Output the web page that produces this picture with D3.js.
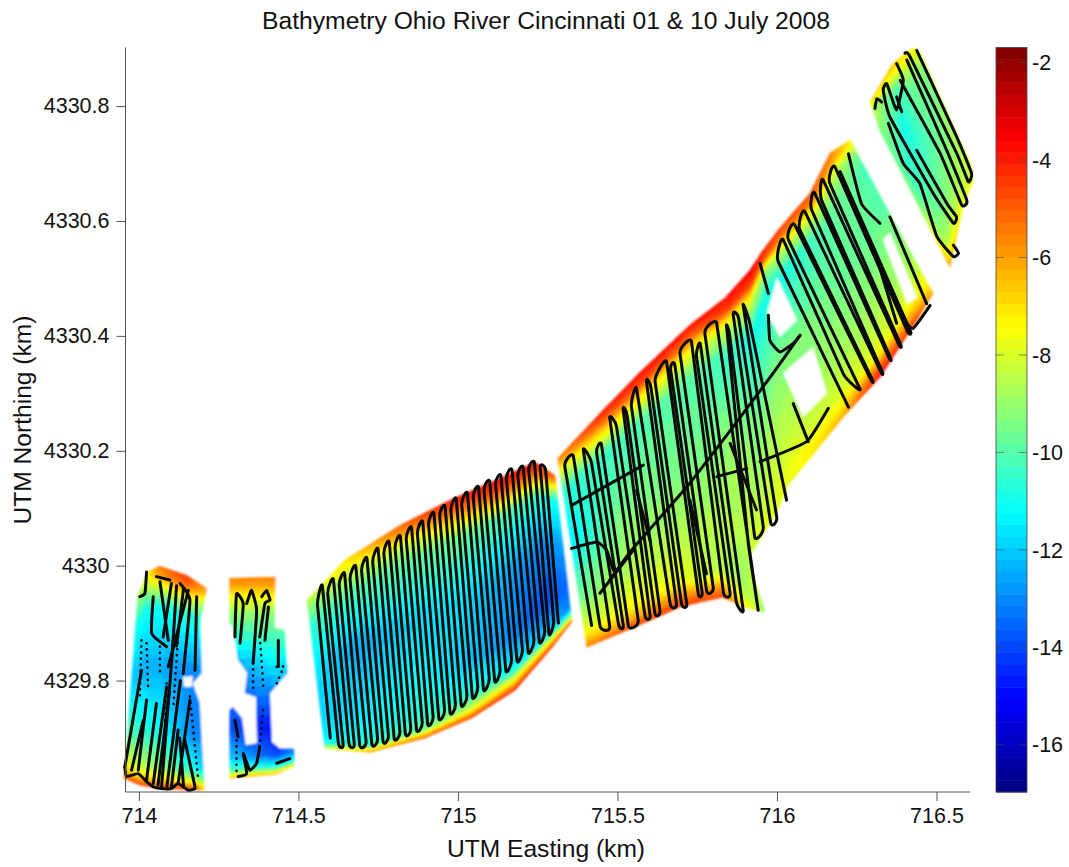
<!DOCTYPE html>
<html><head><meta charset="utf-8">
<script src="https://cdnjs.cloudflare.com/ajax/libs/d3/7.8.5/d3.min.js"></script>
<style>html,body{margin:0;background:#fff}svg{display:block}text{font-family:"Liberation Sans",Arial,sans-serif;fill:#111}</style>
</head><body><svg id="c" width="1069" height="867"></svg>
<script>
const titleText="Bathymetry Ohio River Cincinnati 01 & 10 July 2008";
const xLabel="UTM Easting (km)", yLabel="UTM Northing (km)";
const xTicks=[714,714.5,715,715.5,716,716.5];
const yTicks=[4329.8,4330,4330.2,4330.4,4330.6,4330.8];
const cbTicks=[-2,-4,-6,-8,-10,-12,-14,-16];
const depthRange=[-16.97,-1.69];
// fractions of the way across the river at which each station's depths are read
const crossFractions=[0,.04,.09,.18,.45,.75,.9,.96,1];
// stations: north-bank E,N, south-bank E,N, depths (m)
const stationsA=[
[713.997,4329.947,713.953,4329.63,[-9,-9.5,-10,-11,-12,-10,-8,-6.5,-5]],
[714.028,4329.989,714.003,4329.618,[-7,-8,-9,-11,-12.5,-10.5,-8.5,-7,-4.5]],
[714.066,4329.999,714.066,4329.612,[-5.5,-6,-8,-11,-12.5,-11,-9,-7,-4.5]],
[714.15,4329.983,714.176,4329.61,[-4.5,-5,-7,-10.5,-13,-13,-11,-8,-4.5]],
[714.213,4329.96,714.207,4329.61,[-6,-7,-9,-11,-13,-13,-12,-9,-7]]];
const stationsB=[
[714.285,4329.978,714.285,4329.63,[-5.5,-6,-7.5,-9,-13,-14,-12,-10,-6]],
[714.429,4329.98,714.429,4329.637,[-5.5,-6,-7,-9,-11.5,-15,-14,-11,-6]],
[714.486,4329.896,714.486,4329.651,[-9,-9.5,-10,-11,-13,-14,-13,-11,-7]]];
const stationsC=[
[714.527,4329.94,714.583,4329.682,[-8.5,-9,-9.5,-10.5,-11.5,-12,-11.5,-11,-8]],
[714.646,4330.01,714.724,4329.675,[-7,-7.5,-8.5,-10,-12.5,-11.5,-11,-10.5,-6]],
[714.818,4330.07,714.897,4329.70,[-5,-6,-8,-9.8,-11.8,-11,-10.5,-9.5,-5]],
[714.975,4330.114,715.044,4329.735,[-4,-4.8,-6.5,-9.5,-11.5,-12,-10.5,-8,-4.5]],
[715.132,4330.152,715.179,4329.783,[-3.8,-4.3,-6,-10,-12.5,-13,-11,-7,-4]],
[715.241,4330.18,715.288,4329.853,[-3.8,-4.5,-6.5,-10.5,-13,-14,-12,-7.5,-4.2]],
[715.304,4330.157,715.357,4329.902,[-5,-6,-8,-11,-12.5,-13.5,-13,-9,-5]]];
const stationsD=[
[715.313,4330.187,715.404,4329.858,[-5.5,-6.5,-8.5,-10.5,-11.5,-9.5,-8,-6.5,-5.5]],
[715.445,4330.265,715.571,4329.897,[-4,-5,-7,-10.5,-9.5,-8.5,-7.5,-6,-4.5]],
[715.571,4330.337,715.696,4329.928,[-3.8,-4.5,-7,-10,-9.5,-8.5,-7.5,-5.5,-4.5]],
[715.727,4330.419,715.828,4329.945,[-3.8,-5,-7.5,-10,-9.5,-8.5,-8.5,-6,-4.5]],
[715.837,4330.466,715.90,4329.928,[-3.8,-4.5,-8,-10.5,-9,-8.5,-9,-8.5,-7]],
[715.915,4330.514,715.959,4329.919,[-3.5,-4.5,-8,-11,-9.5,-8,-7.5,-8.5,-9]],
[715.956,4330.549,716.041,4330.144,[-4,-5,-9,-11,-9.5,-8.5,-8,-7.5,-8]],
[716.009,4330.588,716.207,4330.258,[-4.5,-5.5,-8,-10.8,-9.5,-8.7,-8,-7,-6]],
[716.103,4330.648,716.323,4330.328,[-4.8,-5.5,-8,-10,-9.7,-8.7,-7.8,-5,-3.8]],
[716.166,4330.718,716.439,4330.427,[-5.5,-6,-8.5,-9.5,-9.8,-8.8,-7.8,-6,-4.5]],
[716.229,4330.741,716.489,4330.474,[-7,-8,-9.5,-10.3,-9.8,-8.8,-7.8,-7,-6]]];
const stationsF=[
[716.292,4330.807,716.323,4330.758,[-6.5,-7,-7.5,-8.5,-8.5,-9,-9.5,-9.5,-9.5]],
[716.364,4330.875,716.439,4330.631,[-6.5,-7,-8,-10,-11,-10.5,-10,-9.5,-9]],
[716.426,4330.901,716.542,4330.52,[-7.5,-8,-9,-9.5,-10,-9.5,-8.5,-7,-6]],
[716.448,4330.894,716.583,4330.625,[-8,-8.5,-9,-9.5,-9.5,-9,-8.5,-8,-7.5]],
[716.605,4330.70,716.614,4330.67,[-8,-8,-8,-8,-8,-8,-8,-7.5,-7.5]]];
// unsurveyed gaps in the mapped surface
const gaps=[
[[714.238,4329.99],[714.215,4329.96],[714.194,4329.905],[714.197,4329.813],[714.169,4329.795],[714.191,4329.761],[714.197,4329.696],[714.207,4329.614],[714.238,4329.614]],
[[714.138,4329.806],[714.169,4329.808],[714.166,4329.789],[714.141,4329.789]],
[[714.27,4329.905],[714.292,4329.896],[714.31,4329.836],[714.339,4329.813],[714.332,4329.778],[714.367,4329.771],[714.37,4329.691],[714.335,4329.688],[714.323,4329.735],[714.295,4329.754],[714.27,4329.745]],
[[714.429,4329.983],[714.505,4329.983],[714.505,4329.679],[714.483,4329.682],[714.442,4329.682],[714.417,4329.693],[714.411,4329.778],[714.467,4329.813],[714.458,4329.888],[714.426,4329.893]],
[[716.0,4330.502],[716.063,4330.427],[716.009,4330.398],[715.969,4330.44]],
[[716.019,4330.335],[716.113,4330.38],[716.157,4330.30],[716.082,4330.259]],
[[716.332,4330.567],[716.354,4330.58],[716.439,4330.467],[716.408,4330.456]],
[[715.969,4329.914],[715.931,4329.975],[715.915,4330.015],[716,4330.091],[716.041,4330.144],[716.072,4330.144],[716.072,4329.914]]];
// survey transects: top E,N, bottom E,N
const transectsC=[
[714.560,4329.930,714.600,4329.700],[714.575,4329.965,714.625,4329.692],[714.592,4329.950,714.640,4329.690],[714.610,4329.975,714.658,4329.692],
[714.628,4329.965,714.675,4329.690],[714.645,4329.985,714.692,4329.688],[714.662,4329.975,714.712,4329.695],[714.680,4329.998,714.730,4329.690],
[714.698,4329.990,714.748,4329.700],[714.715,4330.012,714.765,4329.695],[714.733,4330.005,714.782,4329.705],[714.750,4330.028,714.800,4329.700],
[714.768,4330.020,714.818,4329.712],[714.785,4330.040,714.835,4329.708],[714.803,4330.030,714.852,4329.718],[714.820,4330.050,714.870,4329.715],
[714.838,4330.045,714.888,4329.728],[714.855,4330.065,714.905,4329.725],[714.873,4330.055,714.922,4329.738],[714.890,4330.075,714.940,4329.735],
[714.908,4330.070,714.958,4329.750],[714.925,4330.090,714.975,4329.745],[714.943,4330.085,714.992,4329.760],[714.960,4330.102,715.010,4329.758],
[714.978,4330.095,715.028,4329.775],[714.995,4330.115,715.045,4329.772],[715.012,4330.105,715.062,4329.790],[715.030,4330.125,715.080,4329.785],
[715.048,4330.118,715.098,4329.805],[715.065,4330.135,715.115,4329.800],[715.082,4330.130,715.132,4329.820],[715.100,4330.145,715.150,4329.818],
[715.118,4330.140,715.168,4329.838],[715.135,4330.155,715.185,4329.835],[715.152,4330.150,715.202,4329.855],[715.170,4330.165,715.220,4329.850],
[715.188,4330.155,715.238,4329.872],[715.205,4330.170,715.255,4329.868],[715.222,4330.165,715.272,4329.888],[715.240,4330.178,715.285,4329.882],
[715.258,4330.170,715.300,4329.905],[715.275,4330.165,715.315,4329.900]];
const transectsD=[
[715.335,4330.172,715.419,4329.896],[715.362,4330.190,715.445,4329.896],[715.393,4330.201,715.476,4329.894],[715.419,4330.178,715.503,4329.899],
[715.435,4330.195,715.518,4329.897],[715.450,4330.210,715.534,4329.896],[715.476,4330.256,715.565,4329.905],[715.497,4330.242,715.586,4329.914],[715.518,4330.271,715.602,4329.914],
[715.530,4330.262,715.617,4329.918],[715.544,4330.276,715.633,4329.923],[715.560,4330.308,715.665,4329.934],[715.591,4330.320,715.685,4329.934],[715.605,4330.310,715.700,4329.936],[715.618,4330.320,715.717,4329.934],
[715.654,4330.355,715.753,4329.952],[715.667,4330.340,715.765,4329.955],[715.680,4330.349,715.779,4329.957],[715.696,4330.369,715.800,4329.963],[715.732,4330.390,715.832,4329.954],
[715.748,4330.363,715.853,4329.952],[715.760,4330.385,715.872,4329.938],[715.774,4330.404,715.894,4329.923],[715.811,4330.422,715.941,4329.923],[715.842,4330.416,715.910,4330.039],
[715.852,4330.40,715.930,4330.05],[715.863,4330.436,715.957,4330.068],[715.880,4330.43,715.980,4330.075],[715.894,4330.453,715.999,4330.085],[715.915,4330.422,716.030,4330.114]];
const transectsE=[
[716.004,4330.529,716.224,4330.276],[716.020,4330.567,716.208,4330.334],[716.036,4330.567,716.260,4330.308],[716.056,4330.593,716.292,4330.326],
[716.072,4330.584,716.297,4330.326],[716.088,4330.616,716.323,4330.340],[716.109,4330.619,716.328,4330.340],[716.119,4330.648,716.349,4330.364],
[716.140,4330.636,716.354,4330.364],[716.145,4330.671,716.380,4330.387],[716.166,4330.665,716.386,4330.387],[716.182,4330.694,716.407,4330.410],
[716.198,4330.686,716.417,4330.410]];
// other solid track pieces
const trackLines=[
[[715.947,4330.526],[715.973,4330.474]],
[[715.973,4330.436],[715.978,4330.392],[716.009,4330.372],[716.051,4330.387],[716.072,4330.401]],
[[716.051,4330.282],[716.098,4330.216]],
[[715.476,4329.975],[715.544,4330.027],[715.717,4330.137],[715.863,4330.242],[715.988,4330.335],[716.072,4330.401]],
[[715.356,4330.105],[715.581,4330.175]],
[[715.947,4330.181],[716.093,4330.216],[716.161,4330.274]],
[[715.811,4330.155],[715.905,4330.169]],
[[715.356,4330.030],[715.435,4330.041],[715.466,4330.027],[715.487,4329.992]],
[[715.560,4330.131],[715.602,4330.044]],
[[715.727,4330.114],[715.779,4329.986]],
[[715.853,4330.213],[715.936,4330.097]],
[[715.445,4329.952],[715.550,4330.027]],
[[716.224,4330.717],[716.265,4330.630],[716.323,4330.596]],
[[716.302,4330.555],[716.375,4330.422]],
[[716.354,4330.607],[716.469,4330.456]],
[[716.396,4330.427],[716.427,4330.413],[716.480,4330.453]],
[[716.438,4330.897],[716.563,4330.747],[716.610,4330.683],[716.600,4330.668],[716.563,4330.718],[716.417,4330.886],[716.401,4330.892]],
[[716.407,4330.880],[716.532,4330.723],[716.595,4330.636],[716.579,4330.628],[716.511,4330.718],[716.386,4330.845]],
[[716.375,4330.874],[716.396,4330.845],[716.375,4330.793],[716.344,4330.839],[716.333,4330.828],[716.354,4330.781],[716.490,4330.648],[716.553,4330.596],[716.563,4330.607],[716.532,4330.631],[716.438,4330.723]],
[[716.349,4330.770],[716.396,4330.700],[716.448,4330.665],[716.501,4330.573],[716.553,4330.538],[716.569,4330.544],[716.553,4330.558]],
[[716.307,4330.796],[716.313,4330.813],[716.328,4330.807]],
[[716.375,4330.816],[716.391,4330.790]],
[[713.956,4329.650],[714.008,4329.818]],
[[713.977,4329.644],[714.014,4329.731]],
[[713.998,4329.644],[714.024,4329.766]],
[[714.024,4329.627],[714.055,4329.760]],
[[714.045,4329.621],[714.087,4329.789]],
[[714.071,4329.615],[714.108,4329.870]],
[[714.102,4329.615],[714.123,4329.714]],
[[714.123,4329.621],[714.160,4329.766]],
[[714.176,4329.615],[714.144,4329.696]],
[[714.060,4329.618],[714.095,4329.780]],
[[714.088,4329.616],[714.130,4329.800]],
[[714.140,4329.616],[714.128,4329.700]],
[[714.024,4329.989],[714.019,4329.952],[714.003,4329.946]],
[[714.045,4329.946],[714.040,4329.882],[714.087,4329.859]],
[[714.066,4329.972],[714.092,4329.870]],
[[714.102,4329.969],[714.076,4329.876]],
[[714.129,4329.969],[714.160,4329.940],[714.139,4329.812]],
[[714.155,4329.957],[714.092,4329.824]],
[[714.181,4329.946],[714.176,4329.818]],
[[714.055,4329.981],[714.097,4329.975]],
[[714.118,4329.965],[714.105,4329.850]],
[[714.140,4329.960],[714.118,4329.860]],
[[713.956,4329.650],[713.961,4329.633],[713.998,4329.638],[714.024,4329.624],[714.045,4329.615],[714.071,4329.612],[714.102,4329.612],[714.123,4329.621],[714.155,4329.609],[714.176,4329.612]],
[[714.301,4329.876],[714.306,4329.951],[714.327,4329.934],[714.317,4329.865]],
[[714.338,4329.934],[714.353,4329.957],[714.369,4329.923],[714.358,4329.830]],
[[714.385,4329.946],[714.400,4329.957],[714.411,4329.940],[714.395,4329.934],[714.379,4329.876]],
[[714.406,4329.928],[714.395,4329.870]],
[[714.437,4329.870],[714.437,4329.824]],
[[714.301,4329.731],[714.311,4329.702]],
[[714.311,4329.633],[714.338,4329.638],[714.327,4329.673],[714.348,4329.644],[714.369,4329.656],[714.379,4329.685]],
[[714.432,4329.656],[714.473,4329.664]]];
// sparse dotted pieces
const dottedLines=[
[[714.008,4329.870],[714.003,4329.772]],
[[714.024,4329.865],[714.029,4329.789]],
[[714.066,4329.859],[714.066,4329.812]],
[[714.123,4329.876],[714.108,4329.754]],
[[714.087,4329.795],[714.082,4329.731]],
[[714.160,4329.772],[714.186,4329.627]],
[[714.306,4329.696],[714.306,4329.638]],
[[714.379,4329.685],[714.390,4329.754]],
[[714.379,4329.876],[714.390,4329.789]],
[[714.358,4329.830],[714.358,4329.783]],
[[714.432,4329.824],[714.453,4329.824],[714.432,4329.795]]];

const X0=125.5,X1=970,Y0=792,Y1=47.5;
const xs=d3.scaleLinear().domain([713.958,716.605]).range([X0,X1]);
const ys=d3.scaleLinear().domain([4329.606,4330.902]).range([Y0,Y1]);
const svg=d3.select("#c");
const defs=svg.append("defs");
defs.append("filter").attr("id","soft").attr("x","-5%").attr("y","-5%").attr("width","110%").attr("height","110%")
 .append("feGaussianBlur").attr("stdDeviation",.9);

function jet(t){const c=v=>Math.round(255*Math.max(0,Math.min(1,v)));
 return `rgb(${c(1.5-Math.abs(4*t-3))},${c(1.5-Math.abs(4*t-2))},${c(1.5-Math.abs(4*t-1))})`;}
const nLevels=64;
const levelScale=d3.scaleQuantize().domain(depthRange).range(d3.range(nLevels));
const colorOf=l=>jet((l+.5)/nLevels);

function mesh(stations){
 const cells=new Map();
 const lerp=d3.interpolateNumber;
 for(let s=0;s<stations.length-1;s++){
  const a=stations[s],b=stations[s+1];
  const pt=(S,f)=>[lerp(S[0],S[2])(f),lerp(S[1],S[3])(f)];
  const NU=12,NV=6;
  for(let u=0;u<NU;u++)for(let k=0;k<crossFractions.length-1;k++)for(let v=0;v<NV;v++){
   const u0=u/NU,u1=(u+1)/NU;
   const f0=lerp(crossFractions[k],crossFractions[k+1])(v/NV),f1=lerp(crossFractions[k],crossFractions[k+1])((v+1)/NV);
   const P=(uu,f)=>{const p=pt(a,f),q=pt(b,f);return[xs(lerp(p[0],q[0])(uu)),ys(lerp(p[1],q[1])(uu))];};
   const dm=lerp(lerp(a[4][k],a[4][k+1])((v+.5)/NV),lerp(b[4][k],b[4][k+1])((v+.5)/NV))((u+.5)/NU);
   const l=levelScale(dm);
   const poly=[P(u0,f0),P(u1,f0),P(u1,f1),P(u0,f1)];
   const str="M"+poly.map(p=>p[0].toFixed(1)+","+p[1].toFixed(1)).join("L")+"Z";
   cells.set(l,(cells.get(l)||"")+str);
  }
 }
 return Array.from(cells,([level,d])=>({level,d}));
}
const surf=svg.append("g").attr("filter","url(#soft)");
[stationsA,stationsB,stationsC,stationsD,stationsF].forEach(st=>{
 surf.append("g").selectAll("path").data(mesh(st)).join("path")
  .attr("d",d=>d.d).attr("fill",d=>colorOf(d.level)).attr("stroke",d=>colorOf(d.level)).attr("stroke-width",.6);
});
const polyLine=d3.line().x(d=>xs(d[0])).y(d=>ys(d[1]));
surf.append("g").selectAll("path").data(gaps).join("path")
 .attr("d",d=>polyLine(d)+"Z").attr("fill","#fff");

// tracks: straight runs joined by small U-turns that continue each run's heading
function snakePath(T){
 const pts=T.map((t,i)=>{const top=[xs(t[0]),ys(t[1])],bot=[xs(t[2]),ys(t[3])];return i%2?[top,bot]:[bot,top];});
 const p=d3.path();p.moveTo(...pts[0][0]);
 pts.forEach((r,i)=>{
  p.lineTo(...r[1]);
  if(i<pts.length-1){
   const n=pts[i+1];
   const u=[r[1][0]-r[0][0],r[1][1]-r[0][1]],lu=Math.hypot(...u);
   const w=[n[0][0]-n[1][0],n[0][1]-n[1][1]],lw=Math.hypot(...w);
   const k=6;
   p.bezierCurveTo(r[1][0]+u[0]/lu*k,r[1][1]+u[1]/lu*k,n[0][0]+w[0]/lw*k,n[0][1]+w[1]/lw*k,n[0][0],n[0][1]);
  }
 });
 return p.toString();
}
const curved=d3.line().x(d=>xs(d[0])).y(d=>ys(d[1])).curve(d3.curveCardinal.tension(.6));
const tracks=svg.append("g").attr("fill","none").attr("stroke","#0a0a0a").attr("stroke-linecap","round").attr("stroke-linejoin","round");
[transectsC,transectsD,transectsE].forEach(T=>{
 tracks.append("path").attr("d",snakePath(T)).attr("stroke-width",3);
});
tracks.selectAll("path.s").data(trackLines).join("path").attr("class","s").attr("d",curved).attr("stroke-width",3);
tracks.selectAll("path.o").data(dottedLines).join("path").attr("class","o").attr("d",curved)
 .attr("stroke-width",2.6).attr("stroke-dasharray","0.1 6");

// axes
const axG=svg.append("g");
const xa=axG.append("g").attr("transform",`translate(0,${Y0})`).call(d3.axisBottom(xs).tickValues(xTicks).tickSize(9).tickPadding(7).tickFormat(d3.format("")));
const ya=axG.append("g").attr("transform",`translate(${X0},0)`).call(d3.axisLeft(ys).tickValues(yTicks).tickSize(9).tickPadding(7).tickFormat(d=>+d.toFixed(1)+""));
[xa,ya].forEach(g=>{g.selectAll("path,line").attr("stroke","#555").attr("stroke-width",1);
 g.select(".domain").attr("d",g===xa?`M${X0},0H${X1}`:`M0,${Y0}V${Y1}`);
 g.selectAll("text").attr("font-size",21.5).attr("font-family",'"Liberation Sans",Arial,sans-serif').attr("fill","#111");});
svg.append("text").attr("x",546).attr("y",29).attr("text-anchor","middle").attr("font-size",24.7).text(titleText);
svg.append("text").attr("x",546).attr("y",857).attr("text-anchor","middle").attr("font-size",24.6).text(xLabel);
svg.append("text").attr("transform","translate(31,420) rotate(-90)").attr("text-anchor","middle").attr("font-size",24.6).text(yLabel);

// colour bar
const CX=996,CW=31;
const cs=d3.scaleLinear().domain(depthRange).range([Y0,Y1]);
const cb=svg.append("g");
cb.selectAll("rect").data(d3.range(nLevels)).join("rect")
 .attr("x",CX).attr("width",CW)
 .attr("y",l=>cs(levelScale.invertExtent(l)[1])).attr("height",l=>cs(levelScale.invertExtent(l)[0])-cs(levelScale.invertExtent(l)[1])+.5)
 .attr("fill",colorOf);
cb.append("rect").attr("x",CX).attr("y",Y1).attr("width",CW).attr("height",Y0-Y1).attr("fill","none").attr("stroke","#444").attr("stroke-width",.8);
const cbt=cb.selectAll("g.t").data(cbTicks).join("g").attr("class","t").attr("transform",d=>`translate(0,${cs(d)})`);
cbt.append("line").attr("x1",CX).attr("x2",CX+8).attr("stroke","#444").attr("stroke-opacity",.6);
cbt.append("line").attr("x1",CX+CW-8).attr("x2",CX+CW).attr("stroke","#444").attr("stroke-opacity",.6);
cbt.append("text").attr("x",CX+CW+5).attr("dy","0.36em").attr("font-size",21.5).text(d=>String(d));
</script></body></html>
